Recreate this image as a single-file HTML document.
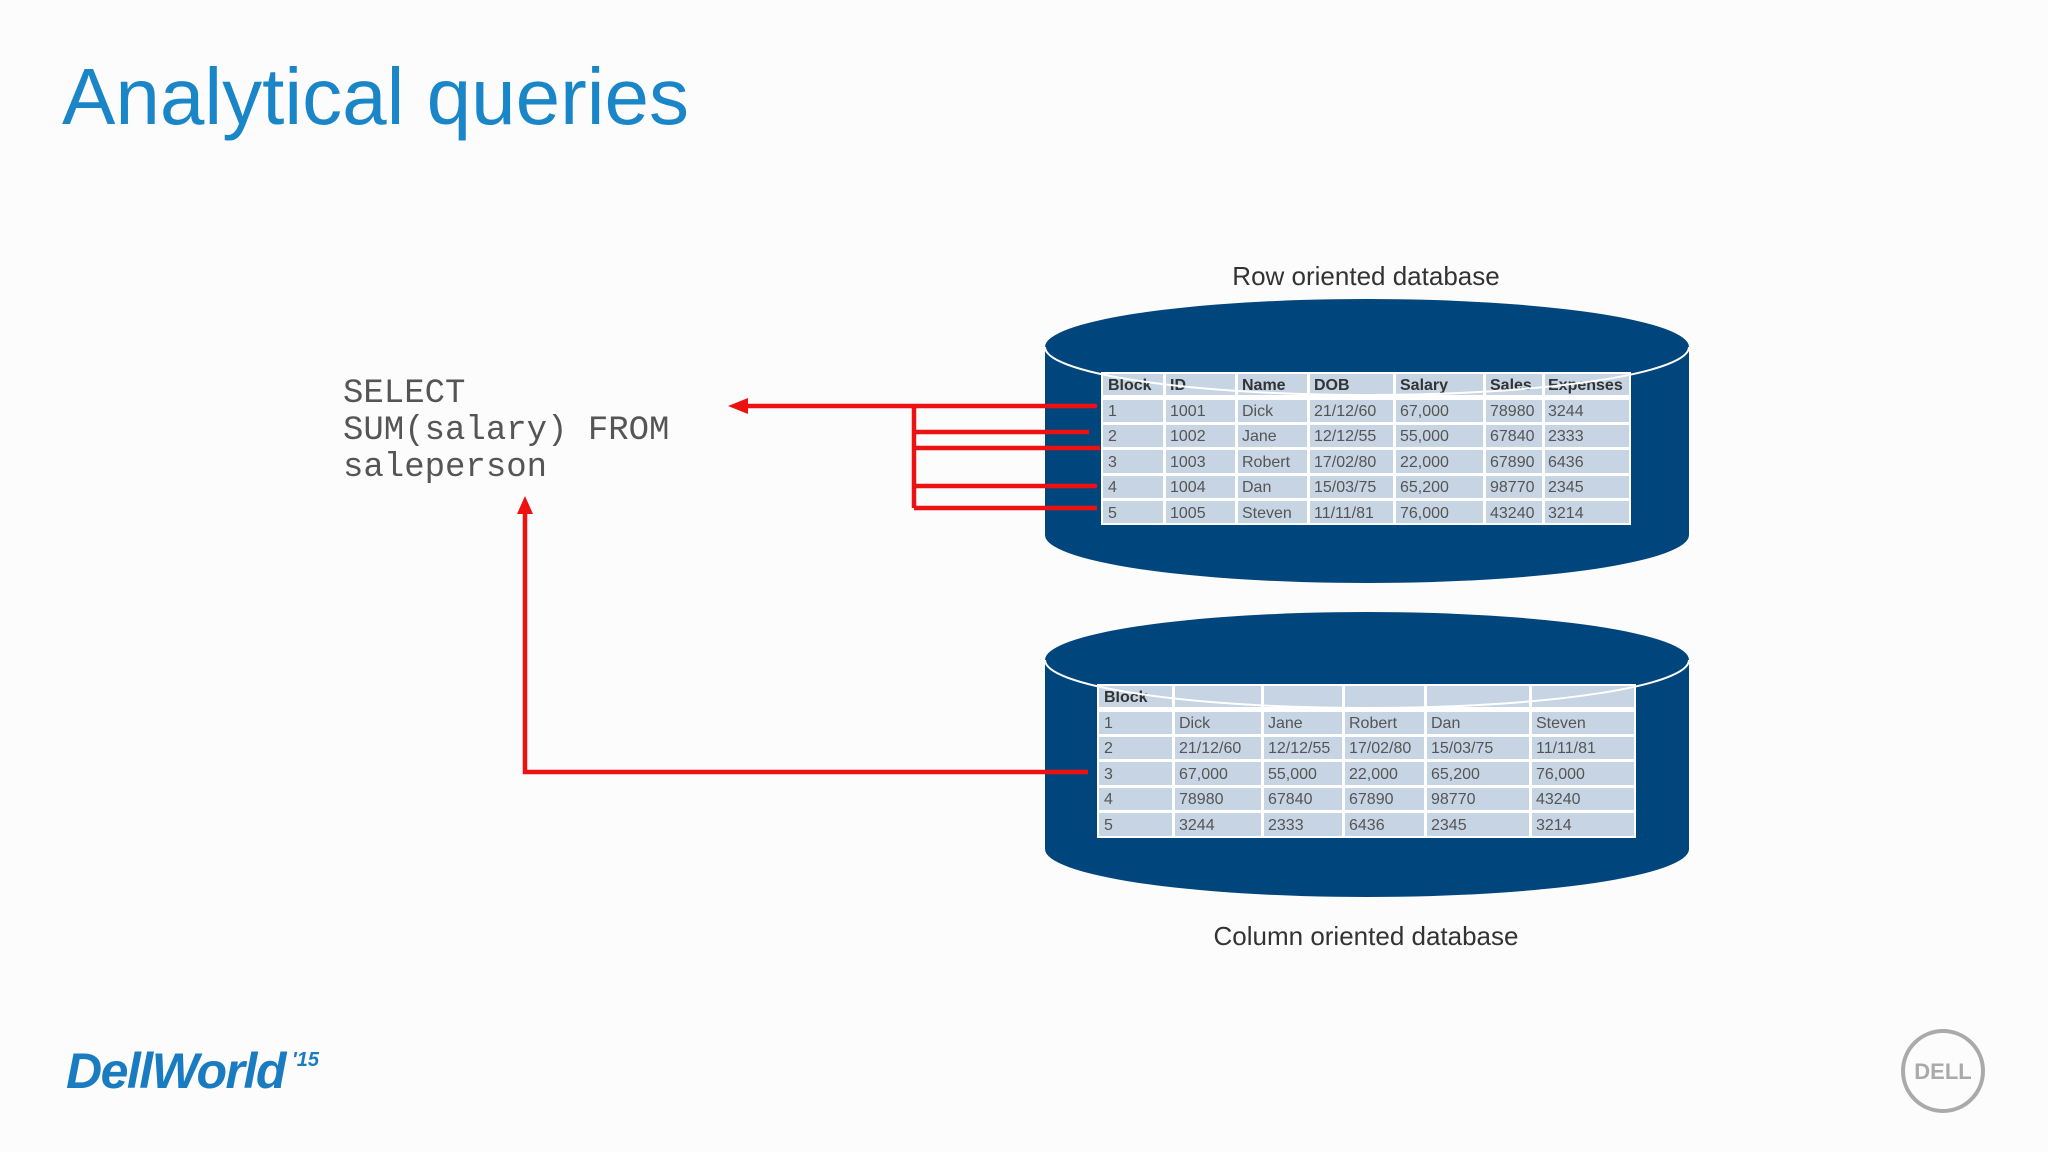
<!DOCTYPE html>
<html><head><meta charset="utf-8"><style>
html,body{margin:0;padding:0;background:#fcfcfc;}
svg{display:block}
</style></head><body>
<svg width="2048" height="1152" viewBox="0 0 2048 1152" xmlns="http://www.w3.org/2000/svg" font-family="Liberation Sans, sans-serif">
<rect width="2048" height="1152" fill="#fcfcfc"/>
<text x="62" y="124" font-size="80" fill="#1a86c7">Analytical queries</text>

<g font-family="Liberation Mono, monospace" font-size="34" fill="#555">
<text x="343" y="402">SELECT</text>
<text x="343" y="439">SUM(salary) FROM</text>
<text x="343" y="476">saleperson</text>
</g>

<text x="1366" y="285" font-size="26" fill="#333" text-anchor="middle">Row oriented database</text>
<text x="1366" y="945" font-size="26" fill="#333" text-anchor="middle">Column oriented database</text>

<rect x="1045" y="347" width="644" height="188" fill="#00457c"/>
<ellipse cx="1367" cy="535" rx="322" ry="48" fill="#00457c"/>
<ellipse cx="1367" cy="347" rx="322" ry="48" fill="#00457c"/>

<rect x="1101" y="372" width="530" height="153" fill="#fff"/>
<rect x="1103" y="374" width="526" height="149" fill="#c6d4e3"/>
<g fill="#fff">
<rect x="1163" y="372" width="3" height="153"/>
<rect x="1235" y="372" width="3" height="153"/>
<rect x="1307" y="372" width="3" height="153"/>
<rect x="1393" y="372" width="3" height="153"/>
<rect x="1483" y="372" width="3" height="153"/>
<rect x="1542" y="372" width="3" height="153"/>
<rect x="1101" y="395" width="530" height="5"/>
<rect x="1101" y="422" width="530" height="3"/>
<rect x="1101" y="447" width="530" height="3"/>
<rect x="1101" y="473" width="530" height="3"/>
<rect x="1101" y="498" width="530" height="3"/>
</g>
<g font-size="16" fill="#555">
<g font-weight="bold" fill="#333">
<text x="1108" y="390">Block</text><text x="1170" y="390">ID</text><text x="1242" y="390">Name</text><text x="1314" y="390">DOB</text><text x="1400" y="390">Salary</text><text x="1490" y="390">Sales</text><text x="1548" y="390">Expenses</text>
</g>
<text x="1108" y="416">1</text><text x="1170" y="416">1001</text><text x="1242" y="416">Dick</text><text x="1314" y="416">21/12/60</text><text x="1400" y="416">67,000</text><text x="1490" y="416">78980</text><text x="1548" y="416">3244</text>
<text x="1108" y="441">2</text><text x="1170" y="441">1002</text><text x="1242" y="441">Jane</text><text x="1314" y="441">12/12/55</text><text x="1400" y="441">55,000</text><text x="1490" y="441">67840</text><text x="1548" y="441">2333</text>
<text x="1108" y="467">3</text><text x="1170" y="467">1003</text><text x="1242" y="467">Robert</text><text x="1314" y="467">17/02/80</text><text x="1400" y="467">22,000</text><text x="1490" y="467">67890</text><text x="1548" y="467">6436</text>
<text x="1108" y="492">4</text><text x="1170" y="492">1004</text><text x="1242" y="492">Dan</text><text x="1314" y="492">15/03/75</text><text x="1400" y="492">65,200</text><text x="1490" y="492">98770</text><text x="1548" y="492">2345</text>
<text x="1108" y="518">5</text><text x="1170" y="518">1005</text><text x="1242" y="518">Steven</text><text x="1314" y="518">11/11/81</text><text x="1400" y="518">76,000</text><text x="1490" y="518">43240</text><text x="1548" y="518">3214</text>
</g>

<rect x="1045" y="660" width="644" height="189" fill="#00457c"/>
<ellipse cx="1367" cy="849" rx="322" ry="48" fill="#00457c"/>
<ellipse cx="1367" cy="660" rx="322" ry="48" fill="#00457c"/>

<rect x="1097" y="684" width="539" height="154" fill="#fff"/>
<rect x="1099" y="686" width="535" height="150" fill="#c6d4e3"/>
<g fill="#fff">
<rect x="1172" y="684" width="3" height="154"/>
<rect x="1261" y="684" width="3" height="154"/>
<rect x="1342" y="684" width="3" height="154"/>
<rect x="1424" y="684" width="3" height="154"/>
<rect x="1529" y="684" width="3" height="154"/>
<rect x="1097" y="707" width="539" height="5"/>
<rect x="1097" y="734" width="539" height="3"/>
<rect x="1097" y="759" width="539" height="3"/>
<rect x="1097" y="785" width="539" height="3"/>
<rect x="1097" y="810" width="539" height="3"/>
</g>
<g font-size="16" fill="#555">
<text x="1104" y="702" font-weight="bold" fill="#333">Block</text>
<text x="1104" y="728">1</text><text x="1179" y="728">Dick</text><text x="1268" y="728">Jane</text><text x="1349" y="728">Robert</text><text x="1431" y="728">Dan</text><text x="1536" y="728">Steven</text>
<text x="1104" y="753">2</text><text x="1179" y="753">21/12/60</text><text x="1268" y="753">12/12/55</text><text x="1349" y="753">17/02/80</text><text x="1431" y="753">15/03/75</text><text x="1536" y="753">11/11/81</text>
<text x="1104" y="779">3</text><text x="1179" y="779">67,000</text><text x="1268" y="779">55,000</text><text x="1349" y="779">22,000</text><text x="1431" y="779">65,200</text><text x="1536" y="779">76,000</text>
<text x="1104" y="804">4</text><text x="1179" y="804">78980</text><text x="1268" y="804">67840</text><text x="1349" y="804">67890</text><text x="1431" y="804">98770</text><text x="1536" y="804">43240</text>
<text x="1104" y="830">5</text><text x="1179" y="830">3244</text><text x="1268" y="830">2333</text><text x="1349" y="830">6436</text><text x="1431" y="830">2345</text><text x="1536" y="830">3214</text>
</g>

<path d="M1045 347 A322 48 0 0 0 1689 347" fill="none" stroke="#fff" stroke-width="2"/>
<path d="M1045 660 A322 48 0 0 0 1689 660" fill="none" stroke="#fff" stroke-width="2"/>

<g stroke="#ee1111" stroke-width="4.5" fill="none">
<path d="M745 406 H1097"/>
<path d="M914 406 V508"/>
<path d="M914 432 H1089"/>
<path d="M914 448 H1100"/>
<path d="M914 486 H1097"/>
<path d="M914 508 H1097"/>
<path d="M1088 772 H525 V512"/>
</g>
<polygon points="728,406 748,398 748,414" fill="#ee1111"/>
<polygon points="525,496 517,514 533,514" fill="#ee1111"/>

<text x="66" y="1088" font-size="50" font-weight="bold" fill="#1a7cc0" font-style="italic" letter-spacing="-1.5">DellWorld</text>
<text x="292" y="1066" font-size="20" font-weight="bold" font-style="italic" fill="#1a7cc0">'15</text>
<circle cx="1943" cy="1071" r="40" fill="none" stroke="#aaa" stroke-width="4"/>
<text x="1943" y="1079" font-size="22" font-weight="bold" fill="#aaa" text-anchor="middle">DELL</text>
</svg>
</body></html>
